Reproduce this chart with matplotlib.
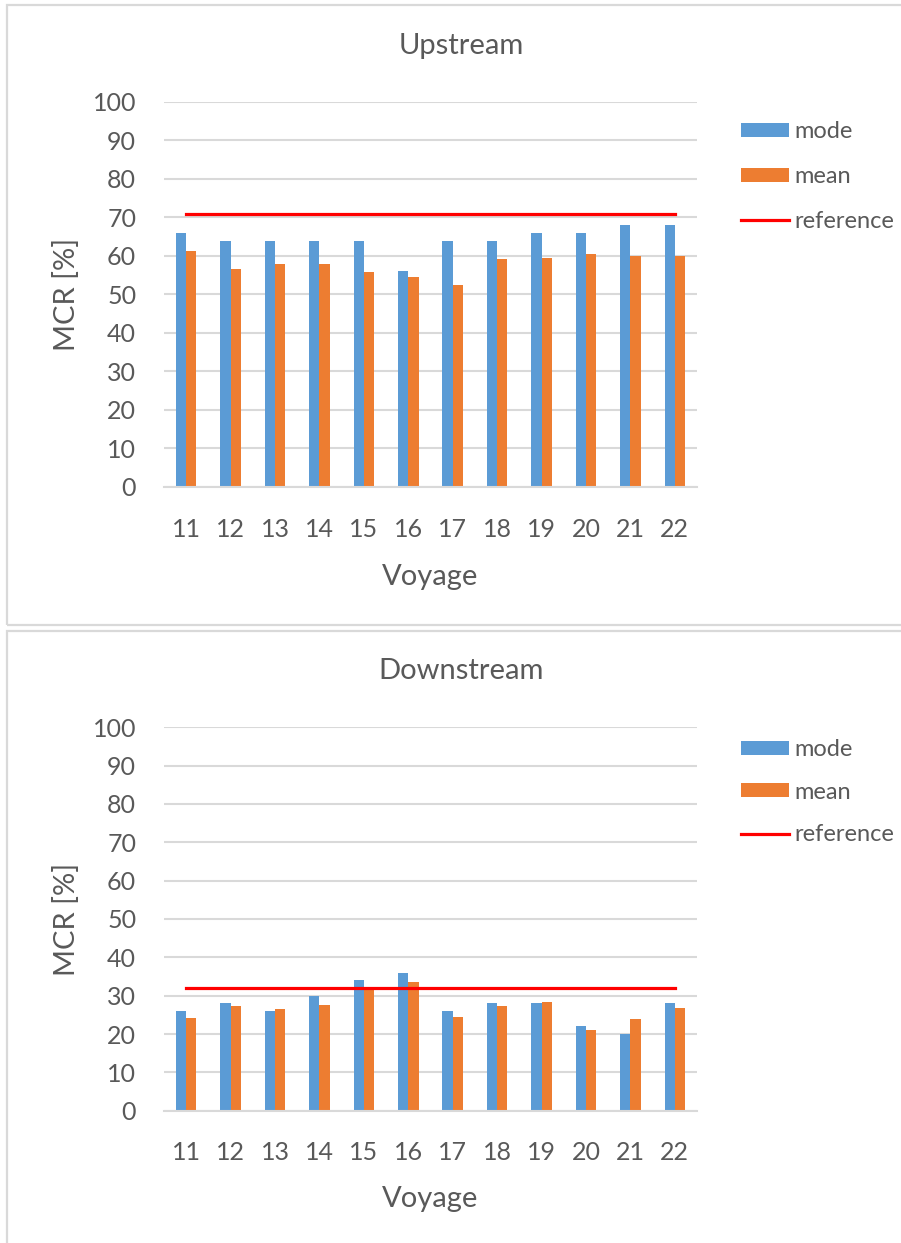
import matplotlib
matplotlib.use("Agg")
import matplotlib.pyplot as plt
from matplotlib.patches import Rectangle
import numpy as np

# voyages and MCR values (%)
voyages = ["11", "12", "13", "14", "15", "16", "17", "18", "19", "20", "21", "22"]

up_mode = [66, 64, 64, 64, 64, 56, 64, 64, 66, 66, 68, 68]
up_mean = [61.3, 56.6, 57.8, 57.8, 55.9, 54.6, 52.5, 59.1, 59.4, 60.6, 60.0, 60.0]
up_ref = 71

down_mode = [26, 28, 26, 30, 34, 36, 26, 28, 28, 22, 20, 28]
down_mean = [24.2, 27.3, 26.4, 27.6, 32.3, 33.6, 24.5, 27.3, 28.3, 21.0, 23.8, 26.7]
down_ref = 32

BLUE = "#5B9BD5"
ORANGE = "#ED7D31"
RED = "#FF0000"
GRID = "#D9D9D9"
TEXT = "#595959"

plt.rcParams["font.family"] = ["Lato", "DejaVu Sans"]
plt.rcParams["text.color"] = TEXT

W, H = 901, 1243
fig = plt.figure(figsize=(W / 100, H / 100), dpi=100)


def fx(px):
    return px / W


def fy(py):
    return 1 - py / H


# light frames around each chart block
for top, bottom in [(5, 625), (631, 1260)]:
    fig.patches.append(Rectangle((fx(7), fy(bottom)), fx(920 - 7), fy(top) - fy(bottom),
                                 transform=fig.transFigure, fill=False,
                                 edgecolor=GRID, linewidth=1.6, clip_on=False))


def draw_panel(rect, title, title_y, mode, mean, ref, legend_top, legend_gap, xlabel_y):
    ax = fig.add_axes(rect)
    x = np.arange(len(voyages))
    w = 0.23
    b1 = ax.bar(x - w / 2, mode, width=w, color=BLUE, label="mode", zorder=2)
    b2 = ax.bar(x + w / 2, mean, width=w, color=ORANGE, label="mean", zorder=2)
    ln, = ax.plot([x[0], x[-1]], [ref, ref], color=RED, linewidth=2.3,
                  label="reference", zorder=3)

    ax.set_xlim(-0.5, len(voyages) - 0.5)
    ax.set_ylim(0, 100)
    ax.set_yticks(range(0, 101, 10))
    ax.set_xticks(x)
    ax.set_xticklabels(voyages)
    ax.yaxis.grid(True, color=GRID, linewidth=1.5, zorder=0)
    ax.set_axisbelow(True)
    for s in ["top", "right", "left"]:
        ax.spines[s].set_visible(False)
    ax.spines["bottom"].set_color(GRID)
    ax.spines["bottom"].set_linewidth(1.5)
    ax.tick_params(axis="y", length=0, pad=20, labelsize=18, labelcolor=TEXT)
    ax.tick_params(axis="x", length=0, pad=22, labelsize=18, labelcolor=TEXT)

    ax.set_ylabel("MCR [%]", fontsize=21, color=TEXT)
    ax.yaxis.set_label_coords(-0.158, 0.5)
    ax.set_xlabel("Voyage", fontsize=21, color=TEXT)
    ax.xaxis.set_label_coords(0.5, xlabel_y)

    fig.text(fx(461), fy(title_y), title, fontsize=21, color=TEXT, ha="center", va="center")

    ax.legend([b1, b2, ln], ["mode", "mean", "reference"],
              loc="upper left", bbox_to_anchor=(fx(741), fy(legend_top)),
              bbox_transform=fig.transFigure, frameon=False, fontsize=17,
              borderpad=0, borderaxespad=0, handlelength=2.03, handleheight=0.55,
              handletextpad=0.25, labelspacing=legend_gap, labelcolor=TEXT)
    return ax


draw_panel([fx(164), fy(487), fx(697 - 164), (487 - 102) / H],
           "Upstream", 46, up_mode, up_mean, up_ref, 121, 1.02, -0.2)
draw_panel([fx(164), fy(1110.7), fx(697 - 164), (1110.7 - 727.2) / H],
           "Downstream", 671, down_mode, down_mean, down_ref, 739, 0.92, -0.196)

fig.savefig("out.png", dpi=100)
